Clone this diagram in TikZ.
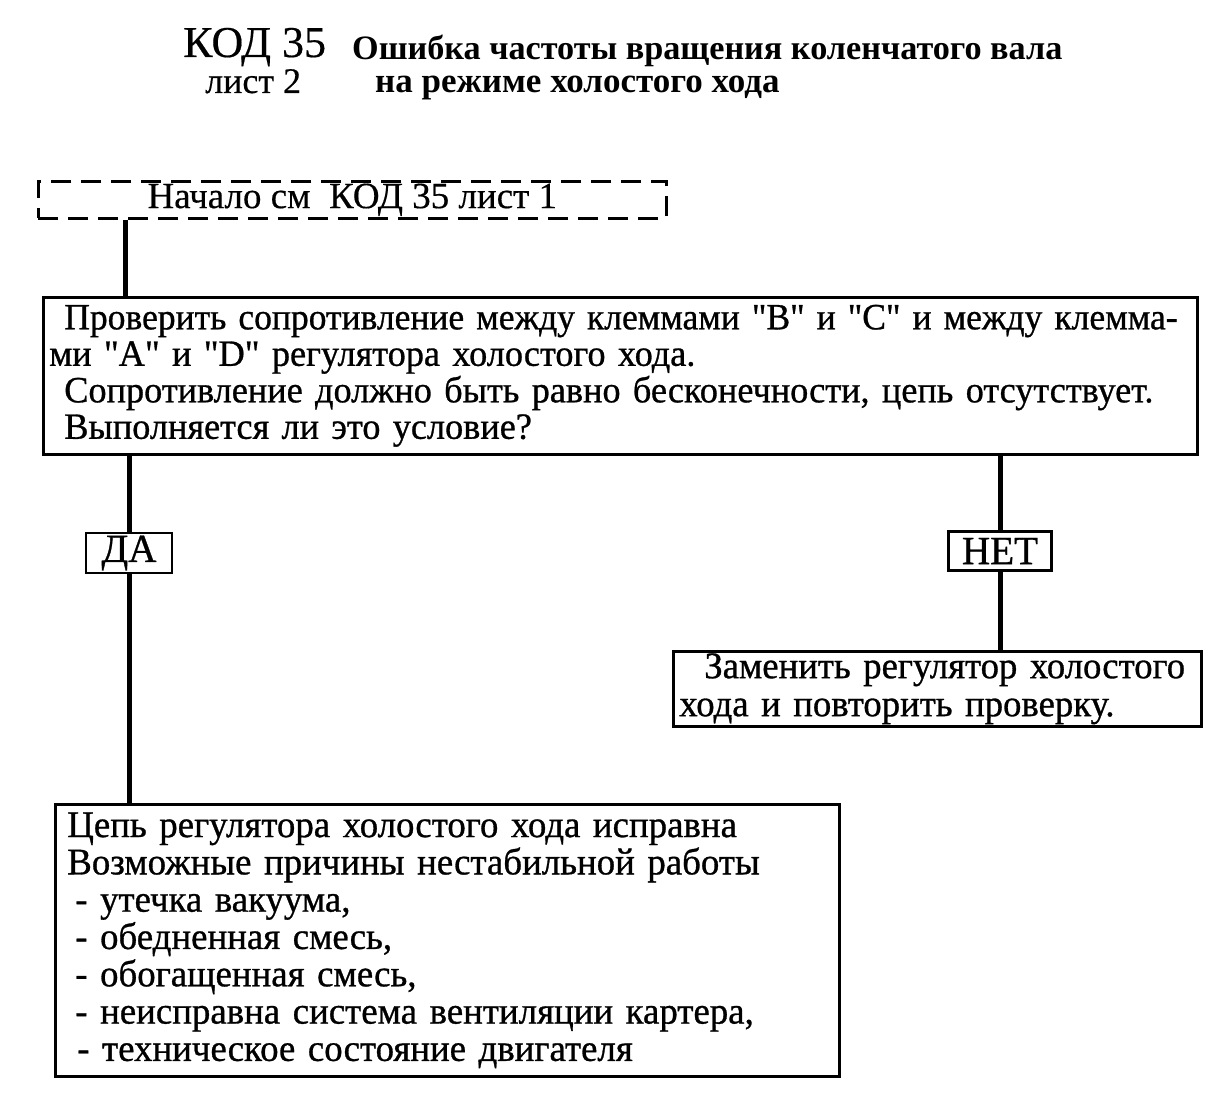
\documentclass[tikz,border=0pt]{standalone}
\usepackage{fontspec}
\usepackage{graphicx}
\setmainfont{Liberation Serif}
\newfontfamily\bodyfont{Liberation Serif}[FakeBold=0.8, FakeStretch=0.98, WordSpace=0.8]
\newfontfamily\headfont{Liberation Serif}[FakeBold=0.4]
\begin{document}
\begin{tikzpicture}[x=1pt,y=-1pt,
  box/.style={draw, line width=2.6pt, anchor=north west, inner xsep=6pt, inner ysep=0pt, align=left},
  dbox/.style={draw, line width=2.6pt, dash pattern=on 20pt off 10pt, anchor=north west, inner sep=0pt},
  lbl/.style={draw, line width=2.6pt, inner sep=0pt, font=\bodyfont\fontsize{40}{40}\selectfont},
  conn/.style={line width=5pt},
  body/.style={font=\bodyfont\fontsize{37}{36.5}\selectfont},
  ttl/.style={anchor=base west, inner sep=0pt}]
\useasboundingbox (0,0) rectangle (1226,1097);
% title
\node[ttl, font=\headfont\fontsize{44}{44}\selectfont] (t1) at (183,57) {КОД 35};
\node[ttl, font=\fontsize{34.2}{36}\selectfont\bfseries] (t2) at (352,60) {Ошибка частоты вращения коленчатого вала};
\node[ttl, font=\headfont\fontsize{36}{36}\selectfont] (t3) at (205,93) {лист 2};
\node[ttl, font=\fontsize{35}{35}\selectfont\bfseries] (t4) at (375,93) {на режиме холостого хода};
% start box
\node[dbox, minimum width=628pt, minimum height=37pt, font=\headfont\fontsize{37}{37}\selectfont] (start) at (37,180) {Начало см\ \ КОД 35 лист 1};
% main box
\node[box, body, minimum width=1154pt, minimum height=157pt, text width=1142pt] (main) at (42,296)
 {\hspace*{15pt}\scalebox{0.98}[1]{\mbox{Проверить сопротивление между клеммами "B" и "C" и между клемма-}}\\
  ми "A" и "D" регулятора холостого хода.\\
  \hspace*{15pt}\mbox{Сопротивление должно быть равно бесконечности, цепь отсутствует.}\\
  \hspace*{15pt}Выполняется ли это условие?};
% labels
\node[lbl, minimum width=86pt, minimum height=40pt] (da) at (129,553) {ДА};
\node[lbl, minimum width=103pt, minimum height=39pt] (net) at (1000,551) {НЕТ};
% right box
\node[box, body, minimum width=528pt, minimum height=75pt, text width=516pt, font=\bodyfont\fontsize{37.5}{38}\selectfont] (repl) at (672,650)
 {\hspace*{25pt}Заменить регулятор холостого\\
  хода и повторить проверку.};
% bottom box
\node[box, body, minimum width=784pt, minimum height=272pt, text width=760pt, inner xsep=12pt, font=\bodyfont\fontsize{37.6}{37.3}\selectfont] (ok) at (54,803)
 {Цепь регулятора холостого хода исправна\\
  Возможные причины нестабильной работы\\
  \hspace*{8pt}- утечка вакуума,\\
  \hspace*{8pt}- обедненная смесь,\\
  \hspace*{8pt}- обогащенная смесь,\\
  \hspace*{8pt}- неисправна система вентиляции картера,\\
  \hspace*{10pt}- техническое состояние двигателя};
% connectors
\draw[conn] ([xshift=88pt]start.south west) -- ([xshift=83pt]main.north west);
\draw[conn] (main.south -| da) -- (da.north);
\draw[conn] (da.south) -- (ok.north -| da);
\draw[conn] (main.south -| net) -- (net.north);
\draw[conn] (net.south) -- (repl.north -| net);
\end{tikzpicture}
\end{document}
